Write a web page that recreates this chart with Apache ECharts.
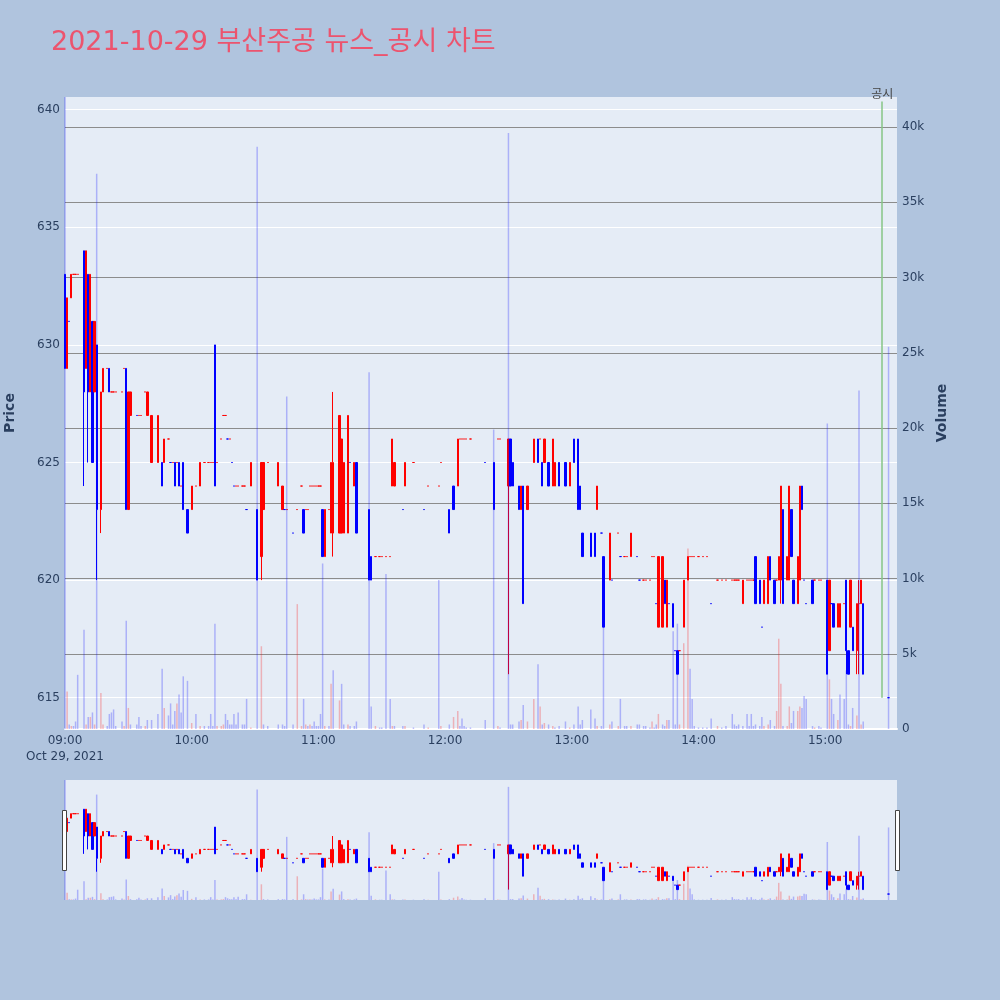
<!DOCTYPE html>
<html>
<head>
<meta charset="utf-8">
<script src="https://cdn.jsdelivr.net/npm/echarts@6/dist/echarts.min.js"></script>
<style>
html,body{margin:0;padding:0;background:#b0c4de;}
#chart{width:1000px;height:1000px;}
</style>
</head>
<body>
<div id="chart"></div>
<script>
const titleText = '2021-10-29 부산주공 뉴스_공시 차트';
const xTickLabels = ['09:00', '10:00', '11:00', '12:00', '13:00', '14:00', '15:00'];
const dateLabel = 'Oct 29, 2021';
const disclosureTime = '15:27';
const disclosureLabel = '공시';

// one-minute candles (time, open, high, low, close, volume)
const times = [
  '09:00','09:01','09:02','09:03','09:04','09:05','09:06','09:09','09:10','09:11','09:12','09:13','09:14','09:15','09:17','09:18','09:20','09:21','09:22','09:23','09:24','09:27','09:28','09:29','09:30','09:31','09:34','09:35','09:36','09:38','09:39','09:41','09:44','09:46','09:47','09:49','09:50','09:51','09:52','09:53','09:54','09:55','09:56','09:58',
  '10:00','10:02','10:04','10:06','10:08','10:09','10:10','10:11','10:12','10:14','10:15','10:16','10:17','10:18','10:19','10:20','10:21','10:22','10:24','10:25','10:26','10:28','10:31','10:33','10:34','10:36','10:41','10:43','10:44','10:45','10:48','10:50','10:52','10:53','10:54','10:55','10:56','10:57','10:58','10:59',
  '11:00','11:01','11:02','11:03','11:05','11:06','11:07','11:10','11:11','11:12','11:14','11:15','11:17','11:18','11:24','11:25','11:27','11:29','11:30','11:32','11:34','11:35','11:36','11:40','11:41','11:45','11:50','11:52','11:57','11:58',
  '12:02','12:04','12:06','12:07','12:08','12:09','12:10','12:12','12:19','12:23','12:25','12:26','12:30','12:31','12:32','12:35','12:36','12:37','12:39','12:42','12:44','12:45','12:46','12:47','12:49','12:51','12:52','12:54','12:57','12:59',
  '13:01','13:03','13:04','13:05','13:09','13:11','13:12','13:14','13:15','13:18','13:19','13:22','13:23','13:25','13:26','13:28','13:31','13:32','13:34','13:35','13:37','13:38','13:39','13:40','13:41','13:43','13:44','13:45','13:46','13:48','13:49','13:50','13:51','13:53','13:55','13:56','13:57','13:58',
  '14:00','14:02','14:04','14:06','14:09','14:11','14:13','14:16','14:17','14:18','14:19','14:21','14:23','14:24','14:25','14:26','14:27','14:29','14:30','14:31','14:33','14:34','14:36','14:37','14:38','14:39','14:40','14:42','14:43','14:44','14:45','14:47','14:48','14:49','14:50','14:51','14:54','14:55','14:57','14:58',
  '15:01','15:02','15:03','15:04','15:06','15:07','15:09','15:10','15:11','15:12','15:13','15:15','15:16','15:17','15:18','15:30'
];
const opens = [
  633,629,631,632,633,633,633,634,629,633,628,631,628,630,623,628,629,629,628,628,628,628,629,629,623,627,627,627,627,628,627,625,625,625,625,626,625,625,625,625,625,624,625,623,
  623,624,624,625,625,625,625,630,625,626,627,627,626,626,625,624,624,624,624,624,623,624,623,621,623,625,624,623,623,623,622,623,624,623,623,623,624,624,624,624,
  624,624,623,621,623,622,622,622,622,622,622,625,624,625,623,621,621,621,621,621,621,624,624,623,624,625,623,624,624,625,
  623,624,624,626,626,626,626,626,625,625,626,626,624,626,625,624,623,624,623,625,626,626,625,625,625,624,624,625,625,624,
  626,626,624,622,622,622,623,622,621,620,620,622,621,621,621,621,621,620,620,620,620,621,621,619,618,618,620,618,619,619,617,617,617,618,620,621,621,621,
  621,621,621,619,620,620,620,620,620,620,620,619,620,620,620,620,621,620,618,619,619,621,620,620,620,620,623,620,620,623,620,619,620,624,620,619,620,620,620,620,
  620,617,619,619,618,618,619,620,617,618,618,617,619,619,619,615
];
const highs = [
  633,632,631,633,633,633,633,634,634,633,633,631,631,630,628,629,629,629,628,628,628,628,629,629,628,628,627,627,627,628,628,627,627,625,626,626,625,625,625,625,625,624,625,623,
  624,624,625,625,625,625,625,630,625,626,627,627,626,626,625,624,624,624,624,624,623,625,623,625,625,625,625,624,623,623,622,623,624,623,623,623,624,624,624,624,
  624,624,623,623,623,625,628,627,626,625,627,625,625,625,623,621,621,621,621,621,621,626,625,623,625,625,623,624,624,625,
  623,624,626,626,626,626,626,626,625,625,626,626,626,626,625,624,624,624,624,626,626,626,625,626,625,626,625,625,625,625,
  626,626,624,622,622,622,624,622,621,622,620,622,621,621,621,622,621,620,620,620,620,621,621,619,621,621,620,620,619,619,617,617,617,620,621,621,621,621,
  621,621,621,619,620,620,620,620,620,620,620,620,620,620,620,620,621,620,618,620,621,621,620,620,621,624,623,621,624,623,620,621,624,624,620,619,620,620,620,620,
  620,620,619,619,619,619,619,620,617,620,618,619,620,620,619,615
];
const lows = [
  629,629,631,632,633,633,633,624,629,625,628,625,628,620,622,628,629,628,628,628,628,628,629,623,623,627,627,627,627,628,627,625,625,624,625,626,625,625,624,625,624,624,623,622,
  623,624,624,625,625,625,625,624,625,626,627,627,626,626,625,624,624,624,624,624,623,624,620,620,623,625,624,623,623,623,622,623,624,622,623,623,624,624,624,624,
  624,624,621,621,623,622,621,622,622,622,622,625,624,622,620,620,621,621,621,621,621,624,624,623,624,625,623,624,624,625,
  622,623,624,626,626,626,626,626,625,623,626,626,616,624,624,623,623,619,623,625,625,626,624,625,624,624,624,624,624,624,
  625,623,623,621,621,621,623,622,618,620,620,622,621,621,621,621,621,620,620,620,620,621,621,619,618,618,619,618,619,618,617,616,617,618,620,621,621,621,
  621,621,621,619,620,620,620,620,620,620,620,619,620,620,620,620,619,619,618,619,619,620,619,620,620,619,619,620,620,621,619,619,620,623,620,619,619,620,620,620,
  616,617,619,618,618,618,619,616,616,618,617,616,616,619,616,615
];
const closes = [
  629,632,631,633,633,633,633,628,634,628,633,625,631,623,628,629,629,628,628,628,628,628,629,623,628,628,627,627,627,628,628,627,627,624,626,626,625,625,624,625,624,624,623,622,
  624,624,625,625,625,625,625,624,625,626,627,627,626,626,625,624,624,624,624,624,623,625,620,625,625,625,625,624,623,623,622,623,624,622,623,623,624,624,624,624,
  624,624,621,623,623,625,625,627,626,625,627,625,625,622,620,620,621,621,621,621,621,626,625,623,625,625,623,624,624,625,
  622,623,626,626,626,626,626,626,625,623,626,626,626,624,624,623,624,619,624,626,625,626,624,626,624,626,625,624,624,625,
  625,623,623,621,621,621,624,622,618,622,620,622,621,621,621,622,621,620,620,620,620,621,621,619,621,621,619,620,619,618,617,616,617,620,621,621,621,621,
  621,621,621,619,620,620,620,620,620,620,620,620,620,620,620,620,619,619,618,620,621,620,619,620,621,624,619,621,624,621,619,621,624,623,620,619,619,620,620,620,
  616,620,619,618,619,619,619,617,616,620,617,619,619,620,616,615
];
const volumes = [
  48000,2500,300,200,200,500,3600,6600,300,800,800,1100,300,36900,2400,300,200,1000,1100,1300,200,500,200,7200,1400,300,300,800,200,200,600,600,1000,4000,1400,900,1700,300,1200,1700,2300,1100,3500,3200,
  400,1000,200,200,200,1000,200,7000,200,200,300,1000,600,300,300,1000,300,1100,300,300,2000,100,38700,5500,300,200,300,300,200,22100,300,8300,200,2000,300,200,300,200,500,200,
  200,1000,11000,200,200,3000,3900,1900,3000,300,300,200,200,500,23700,1500,200,100,100,10300,2000,200,200,200,200,100,300,100,9900,200,
  300,800,1200,200,700,200,100,100,600,19900,200,100,39600,300,300,500,600,1600,500,2000,4300,1500,300,400,300,200,100,200,500,100,
  300,1500,300,600,1300,700,200,200,9000,300,500,200,2000,200,200,200,300,300,200,200,100,500,100,300,1000,300,200,600,600,6500,300,7000,300,5700,12000,4000,2000,200,
  100,100,100,700,200,100,200,1000,300,200,300,200,1000,200,1000,200,300,200,800,200,300,600,200,1200,6000,3000,200,200,1500,400,1200,1200,1500,1400,2200,2000,200,100,200,100,
  20300,3300,2000,1000,600,2300,2000,3900,300,200,1400,900,22500,300,500,25400
];

// axis ranges
const PRICE_MIN = 613.67, PRICE_MAX = 640.54;
const VOL_MAX = 42000;
const X_MAX = 394;           // minutes after 09:00 at the right edge
const DISC_LOW = 615, DISC_HIGH = 640.35;

const UP = '#ff0000', DOWN = '#0000ff';
const UP_VOL = 'rgba(255,0,0,0.25)', DOWN_VOL = 'rgba(0,0,255,0.25)';
const FONT = 'DejaVu Sans, Verdana, sans-serif';
const TXT = '#2a3f5f';

function toMin(t) { const p = t.split(':'); return (+p[0]) * 60 + (+p[1]) - 540; }

const candleData = times.map((t, i) => [toMin(t), opens[i], closes[i], lows[i], highs[i]]);
const volData = times.map((t, i) => {
  const prev = i > 0 ? closes[i - 1] : opens[i];
  return { value: [toMin(t), volumes[i]], itemStyle: { color: closes[i] > prev ? UP_VOL : DOWN_VOL } };
});

const candleStyle = { color: UP, color0: DOWN, borderColor: UP, borderColor0: DOWN, borderWidth: 1 };

const chart = echarts.init(document.getElementById('chart'), null, { renderer: 'canvas' });
const option = {
  backgroundColor: '#b0c4de',
  animation: false,
  title: {
    text: titleText, left: 46, top: 24,
    textStyle: { color: '#ec546e', fontSize: 27, fontWeight: 'normal', fontFamily: 'DejaVu Sans, Noto Sans CJK KR, sans-serif' }
  },
  grid: [
    { left: 65, right: 103, top: 97, height: 632, show: true, backgroundColor: '#e5ecf6', borderWidth: 0, containLabel: false, outerBoundsMode: 'none' },
    { left: 65, right: 103, top: 780, height: 120, show: true, backgroundColor: '#e5ecf6', borderWidth: 0, containLabel: false, outerBoundsMode: 'none' }
  ],
  xAxis: [
    {
      type: 'value', gridIndex: 0, min: 0, max: X_MAX, interval: 60,
      axisLine: { show: true, onZero: false, lineStyle: { color: '#ffffff', width: 2 } },
      axisTick: { show: false }, splitLine: { show: false },
      axisLabel: {
        showMaxLabel: false, color: TXT, fontSize: 12, fontFamily: FONT, lineHeight: 16, margin: 4,
        formatter: function (v) {
          const i = Math.round(v / 60);
          const s = xTickLabels[i] || '';
          return i === 0 ? s + '\n' + dateLabel : s;
        }
      }
    },
    { type: 'value', gridIndex: 1, min: 0, max: X_MAX, show: false }
  ],
  yAxis: [
    {
      type: 'value', gridIndex: 0, position: 'left', min: PRICE_MIN, max: PRICE_MAX,
      splitNumber: 5, minInterval: 5, maxInterval: 5,
      name: 'Price', nameLocation: 'middle', nameGap: 48, nameRotate: 90,
      nameTextStyle: { color: TXT, fontSize: 14, fontWeight: 'bold', fontFamily: FONT },
      axisLine: { show: false }, axisTick: { show: false },
      axisLabel: { showMinLabel: false, showMaxLabel: false, color: TXT, fontSize: 12, fontFamily: FONT, margin: 5 },
      splitLine: { show: true, showMinLine: false, showMaxLine: false, lineStyle: { color: '#ffffff', width: 1 } }
    },
    {
      type: 'value', gridIndex: 0, position: 'right', min: 0, max: VOL_MAX, interval: 5000,
      name: 'Volume', nameLocation: 'middle', nameGap: 37, nameRotate: 90,
      nameTextStyle: { color: TXT, fontSize: 14, fontWeight: 'bold', fontFamily: FONT },
      axisLine: { show: false }, axisTick: { show: false },
      axisLabel: {
        showMaxLabel: false, color: TXT, fontSize: 12, fontFamily: FONT, margin: 5,
        formatter: function (v) { return v === 0 ? '0' : (v / 1000) + 'k'; }
      },
      splitLine: { show: true, showMinLine: false, showMaxLine: false, lineStyle: { color: '#8c8c8c', width: 1 } }
    },
    { type: 'value', gridIndex: 1, min: PRICE_MIN, max: PRICE_MAX, show: false },
    { type: 'value', gridIndex: 1, min: 0, max: VOL_MAX, show: false }
  ],
  series: [
    {
      type: 'candlestick', xAxisIndex: 0, yAxisIndex: 0, data: candleData,
      encode: { x: 0, y: [1, 2, 3, 4] }, barWidth: 1.8, itemStyle: candleStyle, z: 2
    },
    {
      type: 'bar', xAxisIndex: 0, yAxisIndex: 1, data: volData, barWidth: 1.5, z: 3,
      encode: { x: 0, y: 1 }
    },
    {
      type: 'line', xAxisIndex: 0, yAxisIndex: 0, data: [], clip: false, z: 4,
      markLine: {
        silent: true, symbol: ['none', 'none'], animation: false,
        lineStyle: { color: '#86c686', width: 1.5, type: 'solid' },
        label: { show: true, position: 'end', formatter: disclosureLabel, color: '#444', fontSize: 12, distance: 2,
                 fontFamily: 'Noto Sans CJK KR, sans-serif' },
        data: [[{ coord: [toMin(disclosureTime), DISC_LOW] }, { coord: [toMin(disclosureTime), DISC_HIGH] }]]
      }
    },
    {
      type: 'candlestick', xAxisIndex: 1, yAxisIndex: 2, data: candleData,
      encode: { x: 0, y: [1, 2, 3, 4] }, barWidth: 1.8, itemStyle: candleStyle, z: 2
    },
    {
      type: 'bar', xAxisIndex: 1, yAxisIndex: 3, data: volData, barWidth: 1.5, z: 3,
      encode: { x: 0, y: 1 }
    }
  ],
  graphic: [
    { type: 'rect', z: 100, shape: { x: 62.5, y: 810.5, width: 4, height: 60 }, style: { fill: '#ffffff', stroke: '#444444', lineWidth: 1 } },
    { type: 'rect', z: 100, shape: { x: 895.5, y: 810.5, width: 4, height: 60 }, style: { fill: '#ffffff', stroke: '#444444', lineWidth: 1 } }
  ]
};
chart.setOption(option);
</script>
</body>
</html>
